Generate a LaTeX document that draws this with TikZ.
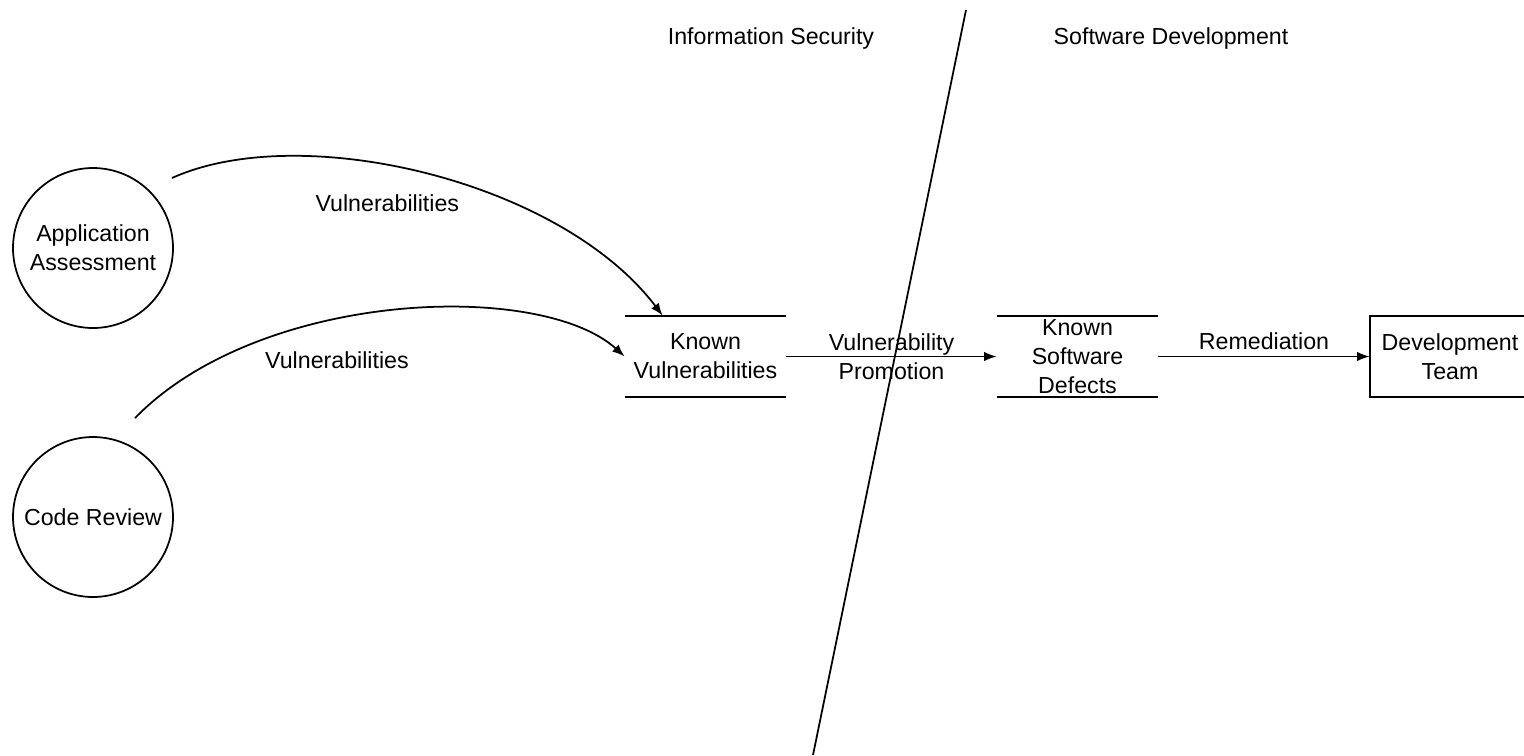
\documentclass[tikz,border=0pt]{standalone}
\usepackage{fontspec}
\setmainfont{Liberation Sans}
\usetikzlibrary{positioning,arrows.meta}

\begin{document}
\begin{tikzpicture}[x=0.02cm, y=-0.02cm,
  every node/.style={font=\fontsize{13.2}{16.4}\selectfont, align=center},
  process/.style={draw, circle, line width=1pt, minimum size=3.2cm, inner sep=0pt},
  datastore/.style={minimum width=3.22cm, minimum height=1.62cm, inner sep=0pt},
  entity/.style={minimum width=3.2cm, minimum height=1.62cm, inner sep=0pt},
  flow/.style={line width=1pt, -{Latex[length=0.25cm, width=0.19cm]}},
  boundary/.style={line width=1pt}]
\useasboundingbox (0,0) rectangle (1524,755);

\def\yrow{356.5}

% the two sides
\coordinate (divtop) at (966,10);
\coordinate (divbot) at (813,755);
\draw[boundary] (divtop) -- (divbot);
\node (infosec) at (771,38) {Information Security};
\node (swdev) at (1171,38) {Software Development};

% processes, stores and the team
\node[process] (appassess) at (93,248) {Application\\Assessment};
\node[process] (codereview) at (93,517) {Code Review};
\node[datastore] (knownvuln) at (705.5,\yrow) {Known\\Vulnerabilities};
\node[datastore] (knowndefects) at (1077.5,\yrow) {Known\\Software\\Defects};
\node[entity] (devteam) at (1450,\yrow) {Development\\Team};

\draw[boundary] (knownvuln.north west) -- (knownvuln.north east);
\draw[boundary] (knownvuln.south west) -- (knownvuln.south east);
\draw[boundary] (knowndefects.north west) -- (knowndefects.north east);
\draw[boundary] (knowndefects.south west) -- (knowndefects.south east);
% box runs off the right edge
\draw[boundary] ([xshift=0.3cm]devteam.north east) -- (devteam.north west)
  -- (devteam.south west) -- ([xshift=0.3cm]devteam.south east);

% flows
\coordinate (assessout) at (172,178);
\coordinate (reviewout) at (135,418);
\coordinate (vulntop) at ([xshift=0.76cm]knownvuln.north west);

\draw[flow] (assessout) .. controls (300,120) and (560,180) .. (vulntop)
  node[pos=.43, yshift=-0.76cm] (vulnlabela) {Vulnerabilities};
\draw[flow] (reviewout) .. controls (260,290) and (540,280) .. (knownvuln.west)
  node[pos=.4, yshift=-0.82cm] (vulnlabelb) {Vulnerabilities};

\draw[flow] (knownvuln.east) -- (knowndefects.west)
  node[midway] (promolabel) {Vulnerability\\Promotion};
\draw[flow] (knowndefects.east) -- (devteam.west)
  node[midway, above] (remlabel) {Remediation};

\end{tikzpicture}
\end{document}
